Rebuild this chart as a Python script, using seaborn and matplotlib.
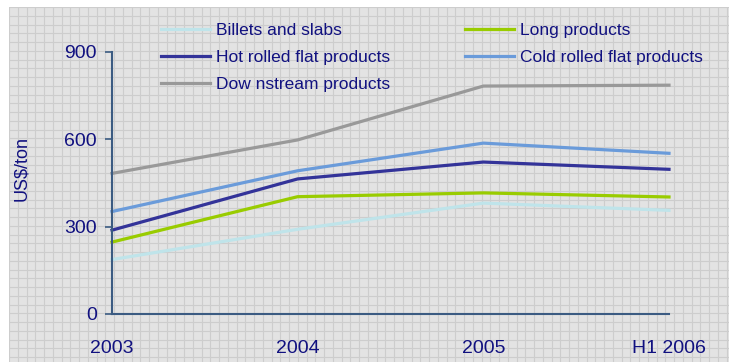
import numpy as np
import pandas as pd
import matplotlib
matplotlib.use("Agg")
import matplotlib.pyplot as plt
import seaborn as sns

# Average steel prices by product group, US$/ton
periods = ["2003", "2004", "2005", "H1 2006"]
billets_and_slabs = [187, 291, 381, 356]
long_products = [247, 403, 416, 402]
hot_rolled_flat = [288, 464, 522, 497]
cold_rolled_flat = [352, 492, 587, 552]
downstream = [483, 598, 783, 786]

series_names = [
    "Billets and slabs",
    "Long products",
    "Hot rolled flat products",
    "Cold rolled flat products",
    "Dow nstream products",
]
series_values = [billets_and_slabs, long_products, hot_rolled_flat,
                 cold_rolled_flat, downstream]
series_colors = ["#BFE4EA", "#99CC00", "#333399", "#6A9BDA", "#999999"]
y_ticks = [0, 300, 600, 900]

rows = []
for name, vals in zip(series_names, series_values):
    for i, (p, v) in enumerate(zip(periods, vals)):
        rows.append({"pos": i, "period": p, "product": name, "price": v})
df = pd.DataFrame(rows)

plt.rcParams["font.family"] = ["Liberation Sans", "DejaVu Sans"]
navy = "#111180"
axis_col = "#3B5B82"

W, H = 732, 362
fig = plt.figure(figsize=(W / 100, H / 100), dpi=100)
fig.patch.set_facecolor("white")

# squared-paper background panel
bx0, by0, bx1, by1 = 9, 7, 729, 362
bg = fig.add_axes([bx0 / W, (H - by1) / H, (bx1 - bx0) / W, (by1 - by0) / H],
                  zorder=-5)
bw, bh = bx1 - bx0, by1 - by0
bg.set_xlim(0, bw)
bg.set_ylim(bh, 0)
bg.set_facecolor("#E3E3E3")
step = 8.75
bg.set_xticks(np.arange(0, bw, step))
bg.set_yticks(np.arange(0, bh, step))
bg.grid(True, color="#CDCDCD", lw=0.8)
bg.tick_params(length=0, labelbottom=False, labelleft=False)
for s in bg.spines.values():
    s.set_visible(False)

# main plot area
x0, x1, y0, y1 = 112, 669, 314, 52
ax = fig.add_axes([x0 / W, (H - y0) / H, (x1 - x0) / W, (y0 - y1) / H])
ax.patch.set_alpha(0)

sns.lineplot(data=df, x="pos", y="price", hue="product",
             hue_order=series_names, palette=series_colors,
             linewidth=2.3, ax=ax, legend=False, clip_on=False)

ax.set_xlim(0, 3)
ax.set_ylim(0, 900)
ax.grid(False)
ax.set_xticks(range(len(periods)))
ax.set_xticklabels(periods)
ax.set_yticks(y_ticks)
ax.set_yticklabels([str(t) for t in y_ticks])
ax.tick_params(axis="x", length=0, pad=19, labelsize=14, labelcolor=navy)
ax.tick_params(axis="y", length=5, width=1.2, color=axis_col, pad=6,
               labelsize=14, labelcolor=navy)
for side in ["top", "right"]:
    ax.spines[side].set_visible(False)
for side in ["left", "bottom"]:
    ax.spines[side].set_color(axis_col)
    ax.spines[side].set_linewidth(1.5)

ax.set_xlabel("")
ax.set_ylabel("US$/ton", fontsize=13, color=navy)
ax.yaxis.set_label_coords(-0.147, 0.555)

# legend: first column Billets / Hot rolled / Downstream, second Long / Cold rolled
order = [0, 2, 4, 1, 3]
handles = [plt.Line2D([], [], color=series_colors[i], lw=2.3) for i in order]
labels = [series_names[i] for i in order]
leg = fig.legend(handles, labels, ncol=2, loc="upper left",
                 bbox_to_anchor=(161 / W, 1 - 23 / H), frameon=False,
                 fontsize=12.5, handlelength=2.8, handletextpad=0.35,
                 columnspacing=4.35, labelspacing=0.68, borderpad=0,
                 borderaxespad=0)
for t in leg.get_texts():
    t.set_color(navy)

fig.savefig("out.png", dpi=100)
